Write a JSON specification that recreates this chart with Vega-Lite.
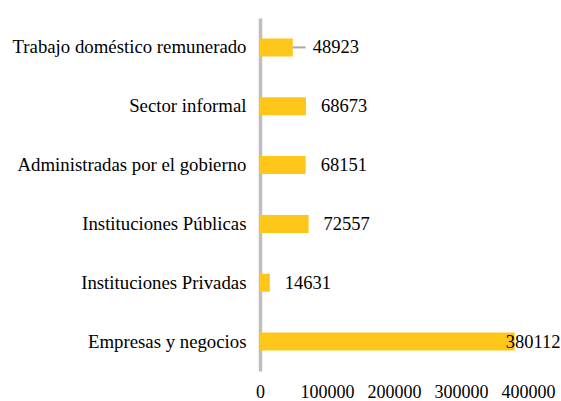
{
  "$schema": "https://vega.github.io/schema/vega-lite/v6.json",
  "width": 268,
  "height": 353,
  "autosize": "none",
  "padding": {"left": 260, "top": 18, "right": 33, "bottom": 30},
  "background": "white",
  "config": {
    "view": {"stroke": null},
    "font": "Times New Roman, Liberation Serif, serif"
  },
  "data": {
    "values": [
      {"categoria": "Trabajo doméstico remunerado", "valor": 48923},
      {"categoria": "Sector informal", "valor": 68673},
      {"categoria": "Administradas por el gobierno", "valor": 68151},
      {"categoria": "Instituciones Públicas", "valor": 72557},
      {"categoria": "Instituciones Privadas", "valor": 14631},
      {"categoria": "Empresas y negocios", "valor": 380112}
    ]
  },
  "encoding": {
    "y": {
      "field": "categoria",
      "type": "nominal",
      "sort": null,
      "scale": {"paddingInner": 0.694, "paddingOuter": 0.347},
      "axis": {
        "title": null,
        "ticks": false,
        "labelPadding": 14,
        "labelFont": "Times New Roman, Liberation Serif, serif",
        "labelFontSize": 18.8,
        "labelColor": "#000000",
        "labelLimit": 300,
        "domainColor": "#BFBFBF",
        "domainWidth": 3.5
      }
    },
    "x": {
      "field": "valor",
      "type": "quantitative",
      "scale": {"domain": [0, 400000], "nice": false},
      "axis": {
        "title": null,
        "values": [0, 100000, 200000, 300000, 400000],
        "format": "d",
        "domain": false,
        "ticks": false,
        "grid": false,
        "labelBaseline": "alphabetic",
        "labelPadding": 26,
        "labelFont": "Times New Roman, Liberation Serif, serif",
        "labelFontSize": 18,
        "labelColor": "#000000",
        "labelFlush": false
      }
    }
  },
  "layer": [
    {
      "mark": {"type": "bar", "color": "#FFC61A"}
    },
    {
      "transform": [{"filter": "datum.valor < 50000 && datum.valor > 40000"}],
      "mark": {"type": "rule", "color": "#A6A6A6", "strokeWidth": 2},
      "encoding": {
        "x2": {"datum": 68000}
      }
    },
    {
      "transform": [{"filter": "datum.valor < 50000 && datum.valor > 40000"}],
      "mark": {"type": "text", "align": "left", "baseline": "middle", "dx": 20, "fontSize": 18.5, "font": "Times New Roman, Liberation Serif, serif", "color": "#000000"},
      "encoding": {"text": {"field": "valor", "type": "quantitative", "format": "d"}}
    },
    {
      "transform": [{"filter": "datum.valor < 300000 && (datum.valor >= 50000 || datum.valor <= 40000)"}],
      "mark": {"type": "text", "align": "left", "baseline": "middle", "dx": 15, "fontSize": 18.5, "font": "Times New Roman, Liberation Serif, serif", "color": "#000000"},
      "encoding": {"text": {"field": "valor", "type": "quantitative", "format": "d"}}
    },
    {
      "transform": [{"filter": "datum.valor >= 300000"}],
      "mark": {"type": "text", "align": "left", "baseline": "middle", "dx": -9, "fontSize": 18.5, "font": "Times New Roman, Liberation Serif, serif", "color": "#000000"},
      "encoding": {"text": {"field": "valor", "type": "quantitative", "format": "d"}}
    }
  ]
}
